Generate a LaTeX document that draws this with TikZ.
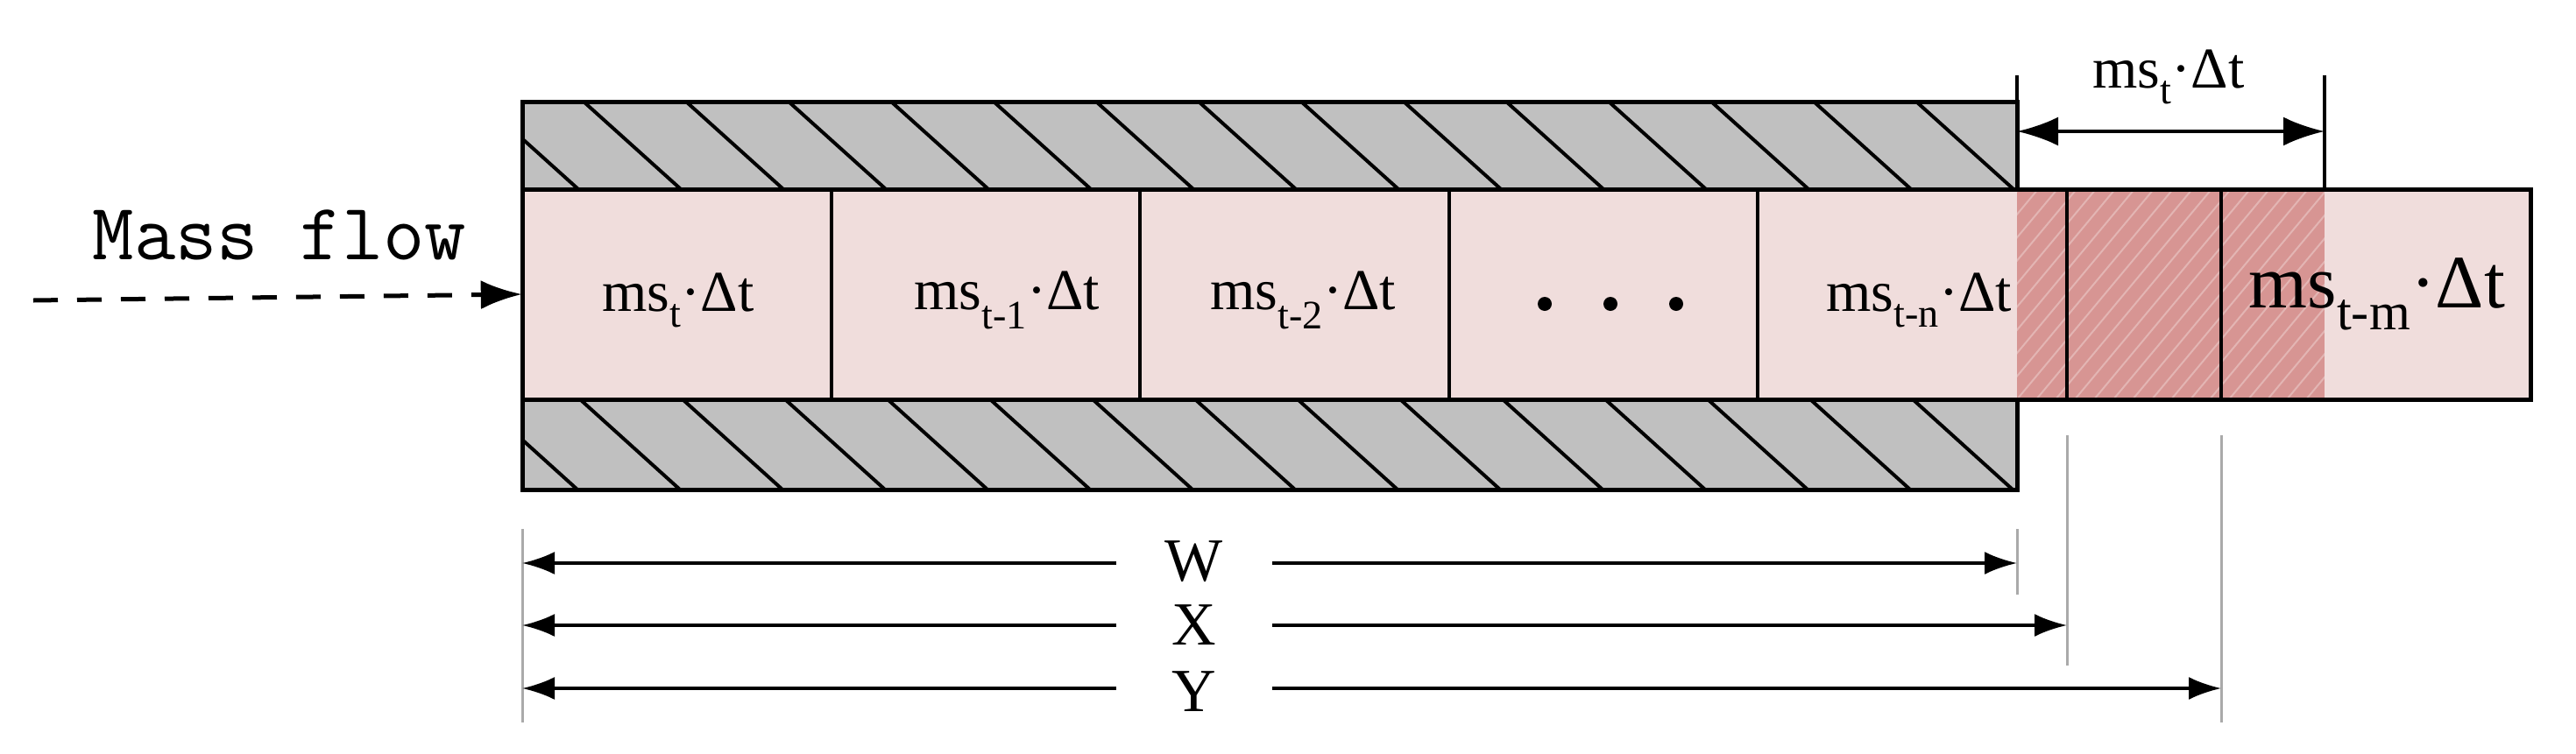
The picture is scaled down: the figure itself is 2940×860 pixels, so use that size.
\documentclass[tikz,border=0pt]{standalone}
\usepackage{fontspec}
\setmainfont{Liberation Serif}
\usetikzlibrary{arrows.meta}
\definecolor{pinkc}{RGB}{240,221,220}
\definecolor{darkc}{RGB}{215,149,147}
\definecolor{wallc}{RGB}{192,192,192}
\definecolor{extc}{RGB}{170,170,170}
\tikzset{
  thick line/.style={line width=5pt},
  cell/.style={draw=none,minimum height=0pt,inner sep=0pt},
  lab/.style={font=\fontsize{66}{70}\selectfont},
  dimlab/.style={font=\fontsize{70}{74}\selectfont,fill=white,minimum width=178pt,inner sep=0pt},
  bigA/.style={-{Latex[length=47pt,width=33pt]}},
  smallA/.style={{Latex[length=37pt,width=26pt]}-{Latex[length=37pt,width=26pt]}},
  ext/.style={draw=extc,line width=3pt},
}
\begin{document}
\begin{tikzpicture}[x=1pt,y=-1pt]
\useasboundingbox (0,0) rectangle (2940,860);
% walls
\fill[wallc] (596,116) rectangle (2302,216);
\fill[wallc] (596,456) rectangle (2302,559);
\begin{scope}
\clip (596,116) rectangle (2302,216);
\foreach \k in {0,...,15} \draw[line width=4pt] ({549+117*\k},116) -- ({660+117*\k},216);
\end{scope}
\begin{scope}
\clip (596,456) rectangle (2302,559);
\foreach \k in {0,...,15} \draw[line width=4pt] ({545+117*\k},456) -- ({659+117*\k},559);
\end{scope}
\draw[thick line] (596,116) rectangle (2302,216);
\draw[thick line] (596,456) rectangle (2302,559);
% inner channel
\fill[pinkc] (596,216) rectangle (2888,456);
\fill[darkc] (2302,216) rectangle (2653,456);
\begin{scope}
\clip (2302,216) rectangle (2653,456);
\foreach \k in {0,...,30} \draw[white,opacity=0.3,line width=2pt] ({2060+22*\k},456) -- ({2060+22*\k+200},216);
\end{scope}
% cells
\foreach \a/\b/\n in {596/949/c1,949/1301/c2,1301/1654/c3,1654/2006/c4,2006/2359/c5,2359/2535/c6,2535/2888/c7}
  \node[cell,minimum width={\b-\a},minimum height=240pt] (\n) at ({(\a+\b)/2},336) {};
\foreach \x in {949,1301,1654,2006,2359,2535} \draw[line width=4pt] (\x,216) -- (\x,456);
\draw[thick line] (596,216) -- (2888,216) -- (2888,456) -- (596,456) -- cycle;
% labels
\node[lab] (l1) at (774,343) {ms\textsubscript{t}·Δt};
\node[lab] (l2) at (1149,343) {ms\textsubscript{t-1}·Δt};
\node[lab] (l3) at (1487,343) {ms\textsubscript{t-2}·Δt};
\foreach \x in {1763,1838,1913} \fill (\x,347) circle (8);
\node[lab] (l5) at (2190,343) {ms\textsubscript{t-n}·Δt};
\node[font=\fontsize{86}{90}\selectfont] (l7) at (2713,336) {ms\textsubscript{t-m}·Δt};
% mass flow
\node[font=\ttfamily\fontsize{92}{96}\selectfont] (mf) at (319,268) {Mass flow};
\coordinate (mfs) at (38,343);
\draw[line width=5pt,dash pattern=on 28pt off 22pt,bigA] (mfs) -- (c1.west);
% top dimension
\coordinate (t1a) at (2302,86); \coordinate (t1b) at (2302,216);
\coordinate (t2a) at (2653,86); \coordinate (t2b) at (2653,216);
\draw[line width=4pt] (t1a) -- (t1b);
\draw[line width=4pt] (t2a) -- (t2b);
\coordinate (da) at (2302,150); \coordinate (db) at (2653,150);
\draw[line width=4pt,{Latex[length=47pt,width=33pt]}-{Latex[length=47pt,width=33pt]}] (da) -- (db);
\node[lab] (tl) at (2475,88) {ms\textsubscript{t}·Δt};
% extension lines
\coordinate (e0a) at (596,604); \coordinate (e0b) at (596,825);
\coordinate (e1a) at (2302,604); \coordinate (e1b) at (2302,679);
\coordinate (e2a) at (2359,497); \coordinate (e2b) at (2359,760);
\coordinate (e3a) at (2535,497); \coordinate (e3b) at (2535,825);
\draw[ext] (e0a) -- (e0b); \draw[ext] (e1a) -- (e1b);
\draw[ext] (e2a) -- (e2b); \draw[ext] (e3a) -- (e3b);
% W X Y
\coordinate (w0) at (596,643); \coordinate (w1) at (2302,643);
\coordinate (x0) at (596,714); \coordinate (x1) at (2359,714);
\coordinate (y0) at (596,786); \coordinate (y1) at (2535,786);
\draw[line width=3.5pt,smallA] (w0) -- (w1);
\draw[line width=3.5pt,smallA] (x0) -- (x1);
\draw[line width=3.5pt,smallA] (y0) -- (y1);
\node[dimlab] (W) at (1363,641) {W};
\node[dimlab] (X) at (1363,714) {X};
\node[dimlab] (Y) at (1363,790) {Y};
\end{tikzpicture}
\end{document}
